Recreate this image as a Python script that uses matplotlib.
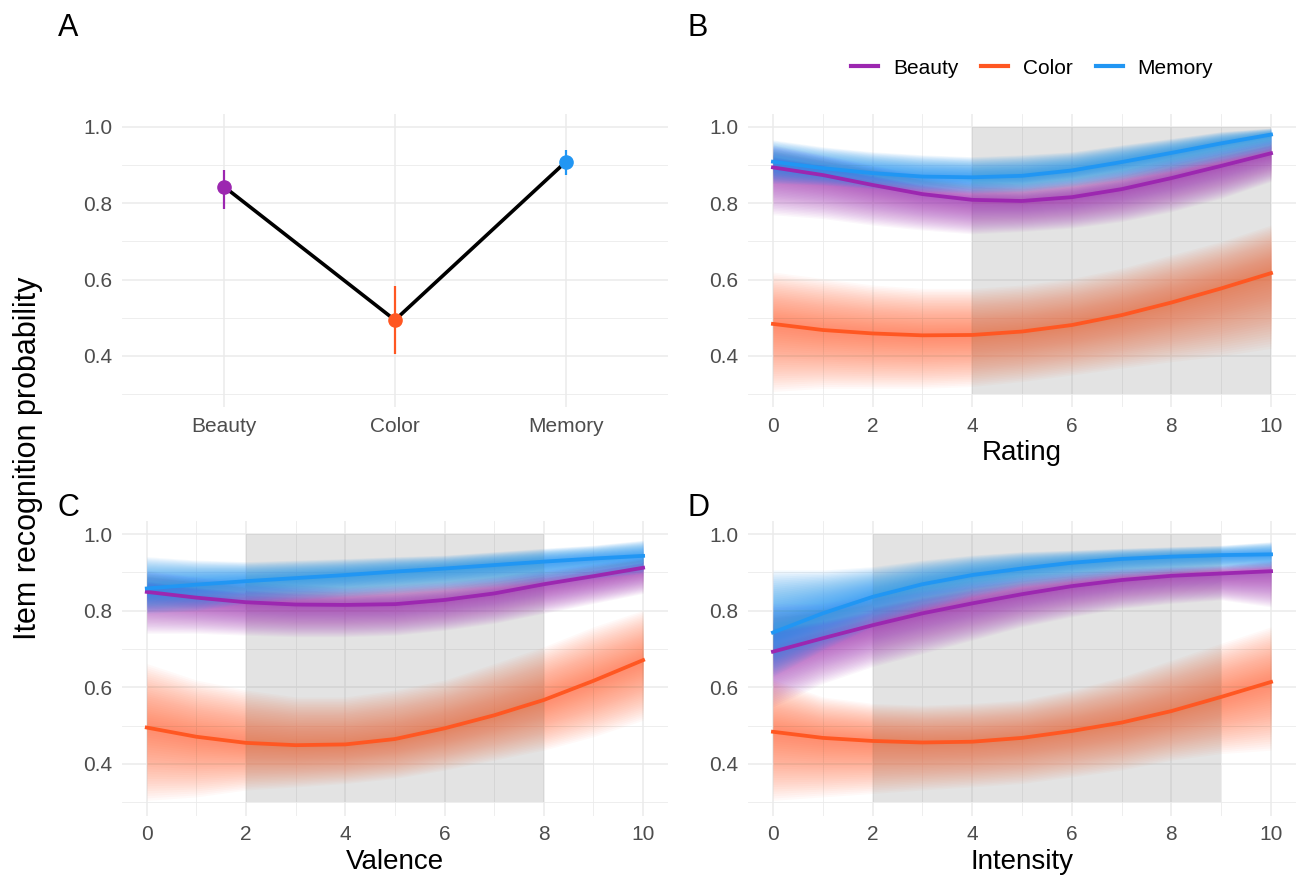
import numpy as np
import matplotlib.pyplot as plt
from matplotlib.lines import Line2D

plt.rcParams['font.family'] = ['Liberation Sans', 'DejaVu Sans']

conditions = ['Beauty', 'Color', 'Memory']
colors = ['#9C27B0', '#FF5722', '#2196F3']
band_alpha = [0.04, 0.03, 0.05]

# panel A: overall recognition probability per condition
prob_mean = [0.843, 0.494, 0.908]
prob_low = [0.785, 0.405, 0.874]
prob_high = [0.887, 0.583, 0.940]

# rating scale 0-10
x = np.arange(11)

# panel B: Rating
rating_beauty = [0.894, 0.874, 0.848, 0.824, 0.809, 0.806, 0.816, 0.837, 0.866, 0.898, 0.931]
rating_color = [0.484, 0.468, 0.459, 0.454, 0.455, 0.464, 0.481, 0.507, 0.540, 0.577, 0.617]
rating_memory = [0.909, 0.892, 0.879, 0.870, 0.868, 0.872, 0.886, 0.908, 0.932, 0.957, 0.980]
rating_beauty_lo = [0.77, 0.76, 0.743, 0.73, 0.72, 0.726, 0.735, 0.752, 0.778, 0.813, 0.857]
rating_beauty_hi = [0.953, 0.927, 0.90, 0.874, 0.857, 0.852, 0.865, 0.887, 0.918, 0.944, 0.97]
rating_color_lo = [0.307, 0.315, 0.315, 0.315, 0.32, 0.333, 0.35, 0.368, 0.385, 0.40, 0.42]
rating_color_hi = [0.62, 0.603, 0.586, 0.577, 0.577, 0.586, 0.603, 0.63, 0.665, 0.70, 0.743]
rating_memory_lo = [0.852, 0.848, 0.839, 0.830, 0.826, 0.830, 0.844, 0.861, 0.883, 0.909, 0.935]
rating_memory_hi = [0.966, 0.948, 0.935, 0.927, 0.922, 0.927, 0.935, 0.953, 0.970, 0.988, 0.997]

# panel C: Valence
valence_beauty = [0.849, 0.834, 0.822, 0.816, 0.815, 0.817, 0.828, 0.845, 0.869, 0.890, 0.912]
valence_color = [0.495, 0.471, 0.455, 0.449, 0.451, 0.465, 0.493, 0.527, 0.567, 0.617, 0.671]
valence_memory = [0.858, 0.868, 0.877, 0.885, 0.893, 0.902, 0.910, 0.919, 0.928, 0.936, 0.943]
valence_beauty_lo = [0.741, 0.741, 0.736, 0.732, 0.732, 0.736, 0.749, 0.767, 0.793, 0.819, 0.845]
valence_beauty_hi = [0.906, 0.889, 0.876, 0.868, 0.862, 0.868, 0.876, 0.889, 0.906, 0.923, 0.941]
valence_color_lo = [0.305, 0.314, 0.332, 0.34, 0.349, 0.362, 0.384, 0.41, 0.436, 0.471, 0.514]
valence_color_hi = [0.662, 0.619, 0.593, 0.575, 0.575, 0.593, 0.619, 0.662, 0.706, 0.758, 0.801]
valence_memory_lo = [0.793, 0.80, 0.819, 0.828, 0.836, 0.845, 0.854, 0.862, 0.871, 0.884, 0.897]
valence_memory_hi = [0.941, 0.932, 0.928, 0.932, 0.936, 0.941, 0.945, 0.954, 0.963, 0.971, 0.984]

# panel D: Intensity
intensity_beauty = [0.693, 0.728, 0.762, 0.793, 0.819, 0.843, 0.864, 0.880, 0.891, 0.897, 0.903]
intensity_color = [0.484, 0.468, 0.460, 0.456, 0.458, 0.468, 0.486, 0.508, 0.538, 0.575, 0.614]
intensity_memory = [0.743, 0.793, 0.836, 0.869, 0.893, 0.910, 0.925, 0.935, 0.941, 0.945, 0.947]
intensity_beauty_lo = [0.549, 0.61, 0.654, 0.688, 0.723, 0.758, 0.784, 0.806, 0.819, 0.828, 0.81]
intensity_beauty_hi = [0.819, 0.819, 0.841, 0.862, 0.88, 0.893, 0.902, 0.91, 0.915, 0.919, 0.932]
intensity_color_lo = [0.305, 0.314, 0.323, 0.332, 0.34, 0.349, 0.366, 0.384, 0.41, 0.427, 0.436]
intensity_color_hi = [0.62, 0.575, 0.558, 0.553, 0.558, 0.567, 0.593, 0.627, 0.671, 0.715, 0.758]
intensity_memory_lo = [0.628, 0.697, 0.758, 0.80, 0.836, 0.862, 0.876, 0.889, 0.897, 0.906, 0.91]
intensity_memory_hi = [0.906, 0.906, 0.915, 0.932, 0.945, 0.954, 0.958, 0.963, 0.967, 0.971, 0.98]

grid_col = '#EBEBEB'
tick_col = '#4D4D4D'


def style(ax):
    ax.set_facecolor('white')
    for s in ax.spines.values():
        s.set_visible(False)
    ax.set_ylim(0.265, 1.035)
    ax.set_yticks([0.4, 0.6, 0.8, 1.0])
    ax.set_yticks([0.3, 0.5, 0.7, 0.9], minor=True)
    ax.set_yticklabels(['0.4', '0.6', '0.8', '1.0'])
    ax.tick_params(which='both', length=0, labelsize=15, labelcolor=tick_col, pad=7)
    ax.grid(which='major', color=grid_col, lw=1.1)
    ax.grid(which='minor', color=grid_col, lw=0.6)
    ax.set_axisbelow(True)


def spaghetti(ax, mean, lo, hi, col, a):
    # stacked translucent bands, densest around the mean curve
    m = np.asarray(mean)
    lo = np.asarray(lo)
    hi = np.asarray(hi)
    for f in np.linspace(1, 0.03, 30):
        ax.fill_between(x, m - f * (m - lo), m + f * (hi - m),
                        color=col, alpha=a, lw=0, zorder=2)


fig = plt.figure(figsize=(13, 8.75), dpi=100)

# Panel A
axA = fig.add_axes([0.0938, 0.5343, 0.42, 0.3359])
style(axA)
pos = np.arange(1, 4)
axA.plot(pos, prob_mean, color='black', lw=2.6, zorder=3)
for i in range(3):
    axA.vlines(pos[i], prob_low[i], prob_high[i], color=colors[i], lw=1.6, zorder=4)
    axA.plot(pos[i], prob_mean[i], 'o', color=colors[i], ms=9.5, zorder=5)
axA.set_xlim(0.4, 3.6)
axA.set_xticks(pos)
axA.set_xticklabels(conditions)

panels = [
    ([0.5754, 0.5343, 0.4215, 0.3359], 'Rating', (4, 10),
     [rating_beauty, rating_color, rating_memory],
     [rating_beauty_lo, rating_color_lo, rating_memory_lo],
     [rating_beauty_hi, rating_color_hi, rating_memory_hi]),
    ([0.0938, 0.0678, 0.42, 0.3372], 'Valence', (2, 8),
     [valence_beauty, valence_color, valence_memory],
     [valence_beauty_lo, valence_color_lo, valence_memory_lo],
     [valence_beauty_hi, valence_color_hi, valence_memory_hi]),
    ([0.5754, 0.0678, 0.4215, 0.3372], 'Intensity', (2, 9),
     [intensity_beauty, intensity_color, intensity_memory],
     [intensity_beauty_lo, intensity_color_lo, intensity_memory_lo],
     [intensity_beauty_hi, intensity_color_hi, intensity_memory_hi]),
]

for rect, xlabel, shade, means, lows, highs in panels:
    ax = fig.add_axes(rect)
    style(ax)
    ax.set_xlim(-0.5, 10.5)
    ax.set_xticks([0, 2, 4, 6, 8, 10])
    ax.set_xticks([1, 3, 5, 7, 9], minor=True)
    ax.fill_between(shade, 0.3, 1.0, color='#808080', alpha=0.22, lw=0, zorder=1)
    for i in range(3):
        spaghetti(ax, means[i], lows[i], highs[i], colors[i], band_alpha[i])
    for i in range(3):
        ax.plot(x, means[i], color=colors[i], lw=2.7, zorder=4)
    ax.set_xlabel(xlabel, fontsize=20, labelpad=3)

fig.text(28 / 1300, 1 - 458 / 875, 'Item recognition probability', rotation=90,
         fontsize=22, ha='center', va='center')
for tag, tx, ty in [('A', 68, 28), ('B', 698, 28), ('C', 68, 508), ('D', 698, 508)]:
    fig.text(tx / 1300, 1 - ty / 875, tag, fontsize=22, ha='center', va='center')

handles = [Line2D([], [], color=c, lw=3) for c in colors]
fig.legend(handles, conditions, loc='center', bbox_to_anchor=(1032 / 1300, 1 - 68 / 875),
           ncol=3, frameon=False, fontsize=15, handlelength=1.3, handletextpad=0.7,
           columnspacing=1.1)

fig.savefig('out.png', dpi=100, facecolor='white')
